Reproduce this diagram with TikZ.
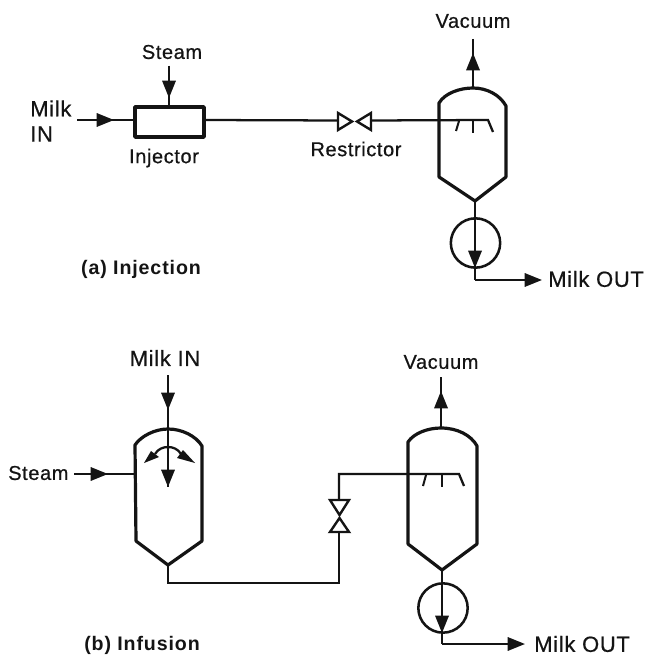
\documentclass[tikz,border=0pt]{standalone}
\usepackage{fontspec}
\setmainfont[LetterSpace=3,FakeBold=0.6]{Liberation Sans}
\newfontfamily\capfont[LetterSpace=4.5]{Liberation Sans Bold}
\usetikzlibrary{arrows.meta}
\definecolor{ink}{gray}{0.08}
\tikzset{
  pipe/.style={draw=ink,line width=1.7pt,line join=miter},
  fine/.style={draw=ink,line width=1.5pt},
  wall/.style={draw=ink,line width=2.4pt,line join=round},
  pumpring/.style={draw=ink,line width=1.9pt},
  head/.style={draw=ink,line width=1.7pt,-{Triangle[length=13pt,width=10pt,color=ink]}},
  headfill/.style={fill=ink},
  lab/.style={text=ink,font=\fontsize{15}{18}\selectfont,inner sep=0pt},
  biglab/.style={text=ink,font=\fontsize{16.5}{19}\selectfont,inner sep=0pt},
  caplab/.style={text=ink,font=\fontsize{14.7}{18}\capfont,inner sep=0pt},
  valvetri/.style={draw=ink,line width=1.8pt,fill=white,line join=miter},
  boxshape/.style={draw=ink,line width=2.7pt,fill=white,line join=round},
}
\begin{document}
\begin{tikzpicture}[x=0.75pt,y=-0.75pt]
\useasboundingbox (0,0) rectangle (648,655);
\fill[white] (0,0) rectangle (648,655);

% ---------- (a) Injection: labels ----------
\node[lab] (aSteam) at (172,52) {Steam};
\node[biglab,align=left,anchor=west] (aMilk) at (30,121) {Milk\\[0pt]IN};
\node[lab] (aInjLab) at (164,158) {Injector};
\node[lab] (aResLab) at (356,149) {Restrictor};
\node[lab] (aVac) at (473,21) {Vacuum};
\node[biglab,anchor=west] (aOut) at (548,279) {Milk OUT};
\node[caplab] (aCap) at (141,269) {(a) Injection};

% Injector
\coordinate (injNW) at (135,107);
\coordinate (injSE) at (204,137);
\coordinate (injW) at (135,120);
\coordinate (injE) at (204,120);
\coordinate (injN) at (169,107);
\coordinate (aSteamStart) at (169,66);
\coordinate (aSteamTip) at (169,98);
\draw[pipe] (aSteamStart) -- (injN);
\draw[head] (aSteamStart) -- (aSteamTip);
\coordinate (aMilkStart) at (77,120);
\coordinate (aMilkTip) at (114,120);
\draw[pipe] (aMilkStart) -- (injW);
\draw[head] (aMilkStart) -- (aMilkTip);
\draw[boxshape] (injNW) rectangle (injSE);

% Restrictor valve
\coordinate (aVL) at (338,120.5);
\coordinate (aVR) at (371,120.5);
\draw[pipe] (injE) -- (aVL);
\draw[valvetri] (338,113) -- (338,130) -- (352,121.5) -- cycle;
\draw[valvetri] (371,113) -- (371,130) -- (357,121.5) -- cycle;

% Vessel
\coordinate (aTop) at (473,88);
\coordinate (aApex) at (475,201);
\draw[wall] (439,177) -- (439,103) .. controls (445,93) and (460,88) .. (aTop)
   .. controls (487,88) and (500,95) .. (506,106) -- (506,177) -- (aApex) -- cycle;
% spray head
\coordinate (aSprayEnd) at (488,120);
\draw[pipe] (aVR) -- (aSprayEnd) -- (493,132);
\draw[fine] (459,121) -- (456,131);
\draw[fine] (473,121) -- (473,133);
% Vacuum
\coordinate (aVacEnd) at (473,39);
\coordinate (aVacTip) at (473,53);
\draw[pipe] (aVacEnd) -- (aTop);
\draw[head] (aTop) -- (aVacTip);
% Pump
\node[circle,pumpring,minimum size=37pt,inner sep=0pt] (aPump) at (475.5,243) {};
\coordinate (aPumpTip) at (475,268);
\coordinate (aCorner) at (475,280);
\coordinate (aOutTip) at (542,280);
\draw[pipe] (aApex) -- (aCorner);
\draw[head] (aApex) -- (aPumpTip);
\draw[head] (aCorner) -- (aOutTip);

% ---------- (b) Infusion: labels ----------
\node[biglab] (bMilk) at (165,358) {Milk IN};
\node[lab,anchor=west] (bSteam) at (8,473) {Steam};
\node[lab] (bVac) at (441,362) {Vacuum};
\node[biglab,anchor=west] (bOut) at (534,644) {Milk OUT};
\node[caplab] (bCap) at (142,645) {(b) Infusion};

% Infusion vessel
\coordinate (cTop) at (168,429);
\coordinate (cApex) at (168,565);
\draw[wall] (136,541) -- (135,445) .. controls (141,436) and (155,429) .. (cTop)
   .. controls (182,429) and (196,436) .. (202,446) -- (202,541) -- (cApex) -- cycle;
\coordinate (cMilkStart) at (168,375);
\coordinate (cMilkTip) at (168,410);
\coordinate (cInTip) at (168,487);
\draw[pipe] (cMilkStart) -- (cInTip);
\draw[head] (cMilkStart) -- (cMilkTip);
\draw[head] (cMilkTip) -- (cInTip);
% deflected streams
\coordinate (cFork) at (168,447);
\draw[pipe] (155,454) .. controls (158,449) and (163,447) .. (cFork)
   .. controls (173,447) and (178,449) .. (181,454);
\fill[headfill] (144,463) -- (151,451) -- (159,457) -- cycle;
\fill[headfill] (195,463) -- (183,450) -- (177,458) -- cycle;
% steam in
\coordinate (cSteamStart) at (74,474);
\coordinate (cSteamTip) at (108,474);
\coordinate (cSteamEnd) at (135,474);
\draw[pipe] (cSteamStart) -- (cSteamEnd);
\draw[head] (cSteamStart) -- (cSteamTip);
% transfer pipe and valve
\coordinate (dVS) at (339,532);
\coordinate (dVN) at (339,500);
\coordinate (dSpray) at (459,474);
\draw[pipe] (cApex) -- (168,583) -- (339,583) -- (dVS);
\draw[pipe] (dVN) -- (339,474) -- (dSpray) -- (464,486);
\draw[valvetri] (330,500) -- (349,500) -- (339.5,515) -- cycle;
\draw[valvetri] (330,532) -- (349,532) -- (339.5,518) -- cycle;
% second vessel
\coordinate (dTop) at (441,428);
\coordinate (dApex) at (442,570);
\draw[wall] (408,544) -- (408,442) .. controls (414,433) and (428,428) .. (dTop)
   .. controls (457,428) and (471,435) .. (477,446) -- (477,544) -- (dApex) -- cycle;
\draw[fine] (426,475) -- (423,486);
\draw[fine] (442,475) -- (442,487);
% vacuum
\coordinate (dVacEnd) at (441,377);
\coordinate (dVacTip) at (441,391);
\draw[pipe] (dVacEnd) -- (dTop);
\draw[head] (dTop) -- (dVacTip);
% pump
\node[circle,pumpring,minimum size=37pt,inner sep=0pt] (dPump) at (443,608) {};
\coordinate (dPumpTip) at (442,633);
\coordinate (dCorner) at (442,644);
\coordinate (dOutTip) at (525,644);
\draw[pipe] (dApex) -- (dCorner);
\draw[head] (dApex) -- (dPumpTip);
\draw[head] (dCorner) -- (dOutTip);
\end{tikzpicture}
\end{document}
